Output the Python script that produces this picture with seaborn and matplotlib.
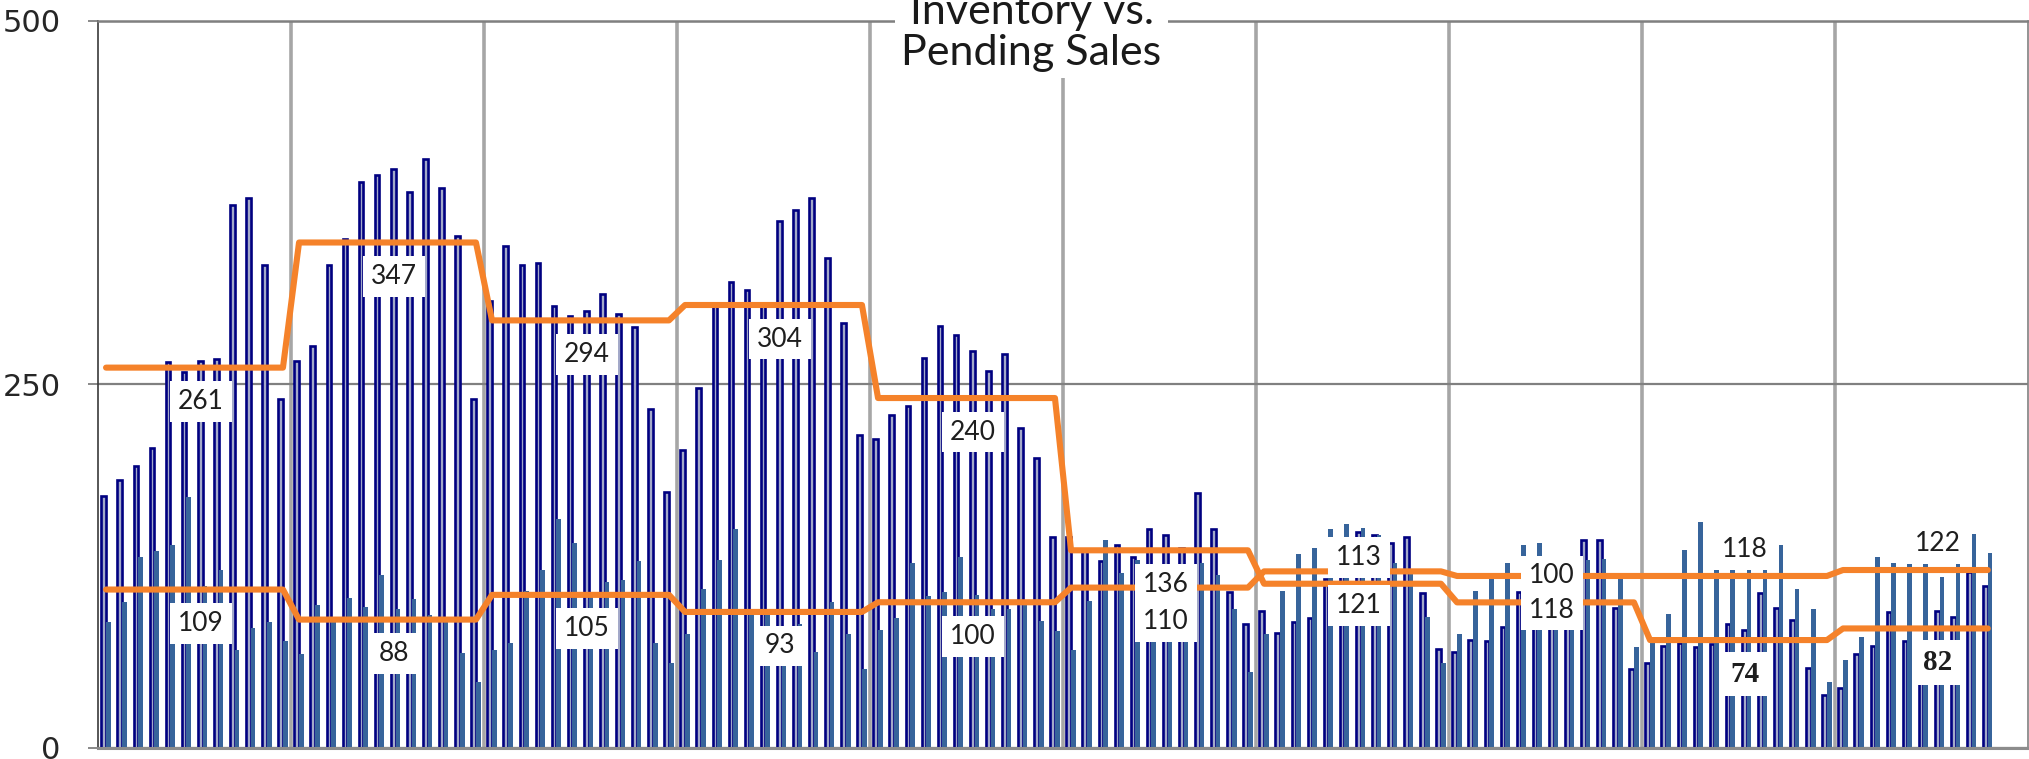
import numpy as np
import pandas as pd
import matplotlib
matplotlib.use("Agg")
import matplotlib.pyplot as plt
import seaborn as sns
from matplotlib import font_manager as fm

# monthly counts, 10 years (last year through October)
inventory = [
    173, 184, 194, 206, 265, 258, 266, 267, 373, 378, 332, 240,
    266, 276, 332, 350, 389, 394, 398, 382, 405, 385, 352, 240,
    307, 345, 332, 333, 304, 297, 300, 312, 298, 289, 233, 176,
    205, 247, 306, 320, 315, 306, 362, 370, 378, 337, 292, 215,
    212, 229, 235, 268, 290, 284, 273, 259, 271, 220, 199, 145,
    145, 135, 128, 139, 131, 150, 146, 137, 175, 150, 107, 85,
    94, 79, 86, 89, 116, 134, 148, 146, 141, 145, 106, 68,
    66, 74, 73, 83, 107, 117, 122, 120, 143, 143, 96, 54,
    58, 70, 72, 69, 71, 85, 81, 106, 96, 88, 55, 36,
    41, 64, 70, 93, 73, 62, 94, 90, 121, 111,
]
pending = [
    86, 100, 131, 135, 139, 172, 111, 122, 67, 82, 86, 73,
    64, 98, 89, 103, 97, 119, 95, 102, 91, 88, 65, 45,
    67, 72, 108, 122, 157, 141, 106, 114, 115, 128, 72, 58,
    78, 109, 129, 150, 92, 95, 83, 85, 66, 100, 78, 54,
    81, 89, 127, 104, 107, 131, 105, 95, 95, 98, 87, 80,
    67, 101, 143, 120, 129, 118, 124, 125, 127, 119, 95, 52,
    78, 108, 133, 137, 150, 154, 151, 146, 127, 122, 90, 58,
    78, 108, 116, 127, 139, 141, 131, 132, 129, 130, 116, 69,
    74, 92, 136, 155, 146, 148, 147, 130, 139, 109, 95, 45,
    60, 76, 131, 127, 143, 143, 117, 143, 147, 134,
]
series_names = ["Inventory", "Pending"]
# where each yearly average label sits relative to its line
inv_label_side = ["below"] * 6 + ["above", "above", "below", "below"]
pen_label_side = ["below"] * 8 + ["above", "above"]
serif_labels = {("Inventory", 8), ("Inventory", 9)}

n_slots = 120  # axis runs to December of the last year


def pick(*names):
    for name in names:
        try:
            fm.findfont(fm.FontProperties(family=name), fallback_to_default=False)
            return name
        except ValueError:
            pass
    return "DejaVu Sans"


tick_font = pick("Liberation Sans Narrow", "DejaVu Sans")
text_font = pick("Lato", "Open Sans", "DejaVu Sans")
serif_font = pick("Liberation Serif", "DejaVu Serif")

sns.set_theme(style="white")
plt.rcParams["font.family"] = [text_font, "DejaVu Sans"]

n = len(inventory)
month = np.arange(n)
df = pd.DataFrame({
    "month": np.tile(month, 2),
    "year": np.tile(month // 12, 2),
    "series": np.repeat(series_names, n),
    "value": inventory + pending,
})
df["avg"] = df.groupby(["series", "year"])["value"].transform("mean")

navy = "#000080"
bar_fill = "#a3a9c9"
steel = "#37649b"
orange = "#f5822a"

fig = plt.figure(figsize=(20.29, 7.59), dpi=100)
ax = fig.add_axes([98 / 2029, 11.5 / 759, 1930 / 2029, 726.8 / 759])

sns.barplot(data=df, x="month", y="value", hue="series",
            palette={"Inventory": bar_fill, "Pending": steel},
            width=0.58, dodge=True, saturation=1, errorbar=None,
            legend=False, ax=ax)
for patch in ax.containers[0]:
    patch.set_edgecolor(navy)
    patch.set_linewidth(1.9)
for patch in ax.containers[1]:
    patch.set_edgecolor("none")

sns.lineplot(data=df, x="month", y="avg", hue="series",
             palette={"Inventory": orange, "Pending": orange},
             estimator=None, legend=False, linewidth=4.4,
             solid_capstyle="round", zorder=4, ax=ax)

# yearly average labels
for name, sides in zip(series_names, [inv_label_side, pen_label_side]):
    sub = df[df["series"] == name].groupby("year")["avg"].first()
    for yr, val in sub.items():
        dy = 19 if sides[yr] == "above" else -24.5
        is_serif = (name, yr) in serif_labels
        ax.annotate(f"{val:.0f}", xy=(yr * 12 + 5.9, val),
                    xytext=(0, dy), textcoords="offset points",
                    ha="center", va="center", color="#1e1e1e",
                    fontsize=21 if is_serif else 19,
                    family=serif_font if is_serif else text_font,
                    fontweight="bold" if is_serif else "normal",
                    bbox=dict(boxstyle="square,pad=0.3", fc="white", ec="none"),
                    zorder=6 + yr)

ax.set_xlim(-0.5, n_slots - 0.5)
ax.set_ylim(0, 500)
ax.set_yticks([0, 250, 500])
ax.set_yticklabels(["0", "250", "500"], family=tick_font)
ax.set_xticks(np.arange(12, n_slots, 12) - 0.5)
ax.set_xticklabels([])
ax.set_xlabel("")
ax.set_ylabel("")
ax.set_axisbelow(True)
ax.grid(axis="x", color="#a6a6a6", linewidth=2.6)
ax.grid(axis="y", color="#808080", linewidth=1.6)
ax.tick_params(axis="x", length=0)
ax.tick_params(axis="y", length=7, width=1.3, color="#808080", pad=20,
               labelsize=22, labelcolor="#262626", left=True)
for side, col, lw in [("left", "#3a3a3a", 1.2), ("bottom", "#8c8c8c", 2.2),
                      ("top", "#808080", 1.8), ("right", "#808080", 1.2)]:
    ax.spines[side].set_color(col)
    ax.spines[side].set_linewidth(lw)

fig.text(1031.5 / 2029, 1 - 72 / 759, "Inventory vs.\nPending Sales",
         ha="center", va="bottom", fontsize=31, fontweight="normal",
         color="#1a1a1a", linespacing=1.1,
         bbox=dict(boxstyle="square,pad=0.15", fc="white", ec="none"))

fig.savefig("out.png", dpi=100)
